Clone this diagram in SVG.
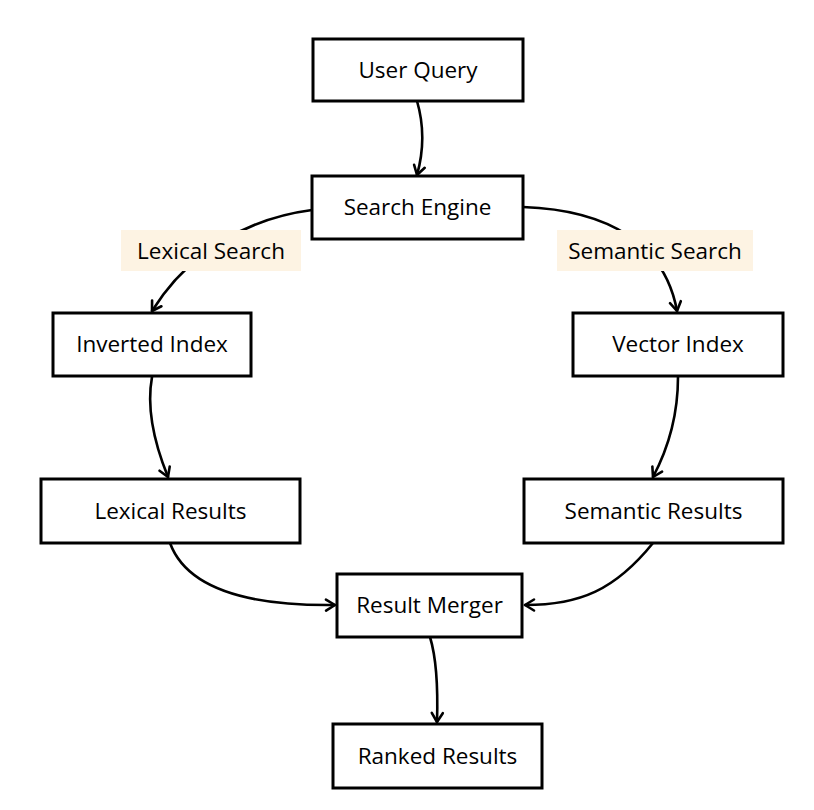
<svg xmlns="http://www.w3.org/2000/svg" width="814" height="810" viewBox="0 0 814 810">
  <style>
    .box { fill: #ffffff; stroke: #000000; stroke-width: 3; }
    .txt { font-family: "Open Sans", "Liberation Sans", sans-serif; font-size: 22.5px; fill: #000000; text-anchor: middle; }
    .lblbg { fill: #fdf3e3; stroke: none; }
    .conn { fill: none; stroke: #000000; stroke-width: 2.6; stroke-linecap: round; marker-end: url(#ah); }
  </style>
  <defs>
    <marker id="ah" markerUnits="userSpaceOnUse" markerWidth="16" markerHeight="16" viewBox="-12 -8 16 16" refX="0" refY="0" orient="auto">
      <path d="M-9,-5.5 L0,0 L-9,5.5" fill="none" stroke="#000000" stroke-width="2.6" stroke-linecap="round" stroke-linejoin="round"/>
    </marker>
  </defs>
  <rect width="814" height="810" fill="#ffffff"/>

  <g id="connectors">
    <path class="conn" d="M417,101 C424,125 424,150 417,175"/>
    <path class="conn" d="M312,210 C250,218 190,250 152,311"/>
    <path class="conn" d="M523,207 C610,210 665,245 677,311"/>
    <path class="conn" d="M152,377 C146,410 155,445 168,477"/>
    <path class="conn" d="M678,377 C678,410 670,445 653,477"/>
    <path class="conn" d="M170,543 C188,592 255,606 335,605"/>
    <path class="conn" d="M653,543 C615,590 580,605 525,605"/>
    <path class="conn" d="M430,637 C437,660 438,690 437,722"/>
  </g>

  <g id="label-lexical">
    <rect class="lblbg" x="121" y="230" width="180" height="41"/>
    <text class="txt" x="211" y="259">Lexical Search</text>
  </g>
  <g id="label-semantic">
    <rect class="lblbg" x="557" y="230" width="196" height="41"/>
    <text class="txt" x="655" y="259">Semantic Search</text>
  </g>

  <g id="user-query">
    <rect class="box" x="313" y="39" width="210" height="62"/>
    <text class="txt" x="418" y="78">User Query</text>
  </g>
  <g id="search-engine">
    <rect class="box" x="312" y="176" width="211" height="63"/>
    <text class="txt" x="417.5" y="215">Search Engine</text>
  </g>
  <g id="inverted-index">
    <rect class="box" x="53" y="313" width="198" height="63"/>
    <text class="txt" x="152" y="352">Inverted Index</text>
  </g>
  <g id="vector-index">
    <rect class="box" x="573" y="313" width="210" height="63"/>
    <text class="txt" x="678" y="352">Vector Index</text>
  </g>
  <g id="lexical-results">
    <rect class="box" x="41" y="479" width="259" height="64"/>
    <text class="txt" x="170.5" y="519">Lexical Results</text>
  </g>
  <g id="semantic-results">
    <rect class="box" x="524" y="479" width="259" height="64"/>
    <text class="txt" x="653.5" y="519">Semantic Results</text>
  </g>
  <g id="result-merger">
    <rect class="box" x="337" y="574" width="185" height="63"/>
    <text class="txt" x="429.5" y="613">Result Merger</text>
  </g>
  <g id="ranked-results">
    <rect class="box" x="333" y="724" width="209" height="64"/>
    <text class="txt" x="437.5" y="764">Ranked Results</text>
  </g>
</svg>
